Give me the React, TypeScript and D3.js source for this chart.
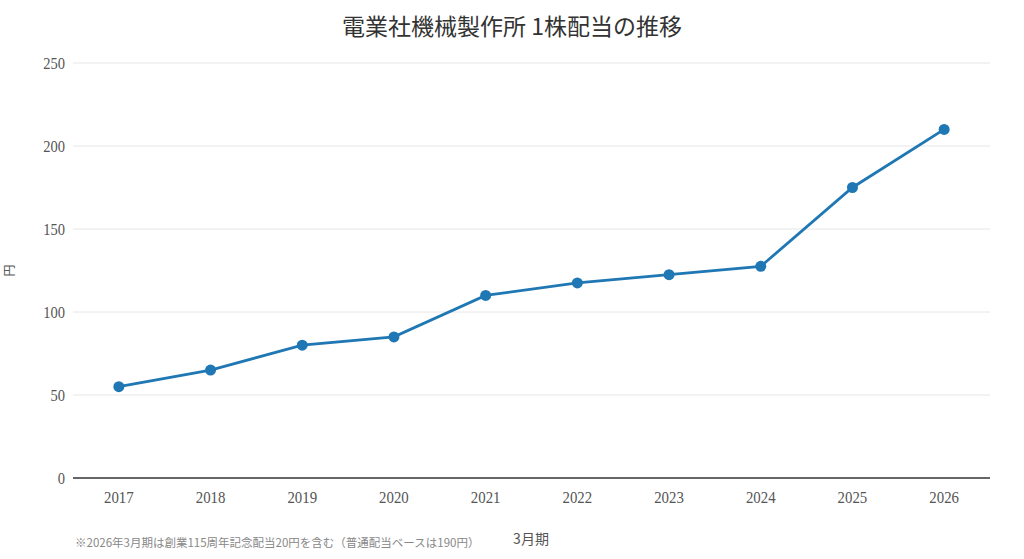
import React from "react";
import * as d3 from "d3";

const years = ["2017", "2018", "2019", "2020", "2021", "2022", "2023", "2024", "2025", "2026"];
const dividends = [55, 65, 80, 85, 110, 117.5, 122.5, 127.5, 175, 210];
const yTicks = [0, 50, 100, 150, 200, 250];

const title = "電業社機械製作所 1株配当の推移";
const yLabel = "円";
const xLabel = "3月期";
const footnote = "※2026年3月期は創業115周年記念配当20円を含む（普通配当ベースは190円）";

const W = 1024;
const H = 559;
const margin = { left: 73, right: 34, top: 63, bottom: 81 };

export default function App() {
  const x = d3
    .scalePoint<string>()
    .domain(years)
    .range([margin.left, W - margin.right])
    .padding(0.5);
  const y = d3
    .scaleLinear()
    .domain([0, 250])
    .range([H - margin.bottom, margin.top]);
  const line = d3
    .line<number>()
    .x((_, i) => x(years[i]) as number)
    .y((d) => y(d));

  const serif = "'Liberation Serif', 'DejaVu Serif', serif";
  const cjk = "'Noto Sans CJK JP', 'Noto Sans', sans-serif";

  return (
    <svg
      width={W}
      height={H}
      style={{ position: "absolute", left: 0, top: 0, background: "#fff" }}
    >
      <text
        x={W / 2}
        y={35}
        textAnchor="middle"
        fontFamily={cjk}
        fontSize={23}
        fill="#333"
      >
        {title}
      </text>
      {yTicks.map((t) => (
        <g key={t}>
          {t !== 0 && (
            <line
              x1={margin.left}
              x2={W - margin.right}
              y1={y(t)}
              y2={y(t)}
              stroke="#e6e6e6"
              strokeWidth={1}
            />
          )}
          <text
            x={65}
            y={y(t)}
            dy="0.35em"
            textAnchor="end"
            fontFamily={serif}
            fontSize={16.5}
            fill="#555"
            transform={`translate(65 0) scale(0.88 1) translate(-65 0)`}
          >
            {t}
          </text>
        </g>
      ))}
      <line
        x1={margin.left}
        x2={W - margin.right}
        y1={y(0)}
        y2={y(0)}
        stroke="#333"
        strokeWidth={1.3}
      />
      {years.map((yr) => (
        <text
          key={yr}
          x={x(yr)}
          y={503}
          textAnchor="middle"
          fontFamily={serif}
          fontSize={16.5}
          fill="#555"
          transform={`translate(${x(yr)} 0) scale(0.9 1) translate(${-(x(yr) as number)} 0)`}
        >
          {yr}
        </text>
      ))}
      <text
        transform={`translate(14 ${y(125)}) rotate(-90)`}
        textAnchor="middle"
        fontFamily={cjk}
        fontSize={12}
        fill="#555"
      >
        {yLabel}
      </text>
      <text
        x={531}
        y={544}
        textAnchor="middle"
        fontFamily={cjk}
        fontSize={14}
        fill="#555"
      >
        {xLabel}
      </text>
      <text
        x={75}
        y={547}
        fontFamily={cjk}
        fontSize={11.5}
        fill="#888"
      >
        {footnote}
      </text>
      <path
        d={line(dividends) || ""}
        fill="none"
        stroke="#1f77b4"
        strokeWidth={2.8}
      />
      {dividends.map((d, i) => (
        <circle
          key={years[i]}
          cx={x(years[i])}
          cy={y(d)}
          r={5.5}
          fill="#1f77b4"
        />
      ))}
    </svg>
  );
}
